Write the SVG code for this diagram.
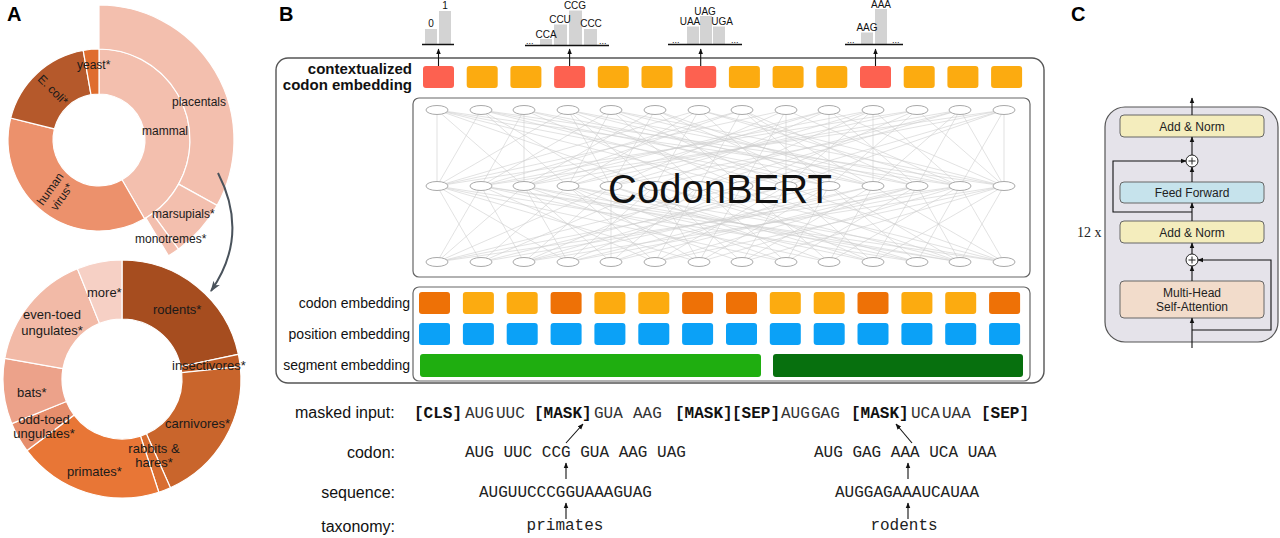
<svg xmlns="http://www.w3.org/2000/svg" width="1280" height="538" viewBox="0 0 1280 538">
<style>
.sans{font-family:"Liberation Sans",Arial,sans-serif;fill:#111}
.panel{font-family:"Liberation Sans",Arial,sans-serif;font-weight:bold;font-size:20px;fill:#000}
.dl{font-family:"Liberation Sans",Arial,sans-serif;font-size:12px;fill:#1a1a1a}
.dl2{font-family:"Liberation Sans",Arial,sans-serif;font-size:13px;fill:#1a1a1a}
.wedge{stroke:#fff;stroke-width:1.2}
.hl{font-family:"Liberation Sans",Arial,sans-serif;font-size:10px;fill:#111;text-anchor:middle}
.dots{font-family:"Liberation Sans",Arial,sans-serif;font-size:9px;fill:#111}
.bar{fill:#d3d3d3}
.base{stroke:#111;stroke-width:1.5}
.red{fill:#fd6150}
.lor{fill:#fcab10}
.dor{fill:#ee7106}
.blu{fill:#0ba1f7}
.nd{fill:#fff;stroke:#a9a9a9;stroke-width:1}
.net{stroke:#cfcfcf;stroke-width:0.6;fill:none}
.emb{font-family:"Liberation Sans",Arial,sans-serif;font-size:14px;fill:#111;text-anchor:end}
.lab{font-family:"Liberation Sans",Arial,sans-serif;font-size:16px;fill:#111}
.mb{font-family:"Liberation Mono","Courier New",monospace;font-size:16px;font-weight:bold;fill:#111}
.ms{font-family:"Liberation Mono","Courier New",monospace;font-size:16px;fill:#333}
.mono{font-family:"Liberation Mono","Courier New",monospace;font-size:16px;fill:#222}
.arr{stroke:#111;stroke-width:1.1;fill:none}
.cbox{stroke:#666;stroke-width:1}
.ct{font-family:"Liberation Sans",Arial,sans-serif;font-size:12px;fill:#222;text-anchor:middle}
</style>
<defs>
<marker id="ah" viewBox="0 0 10 10" refX="9" refY="5" markerWidth="6" markerHeight="6" orient="auto" markerUnits="userSpaceOnUse"><path d="M0,1 L10,5 L0,9 z" fill="#111"/></marker>
<marker id="ahA" viewBox="0 0 10 10" refX="9" refY="5" markerWidth="11" markerHeight="11" orient="auto" markerUnits="userSpaceOnUse"><path d="M0,1.5 L10,5 L0,8.5 L2.5,5 z" fill="#4a535c"/></marker>
</defs>
<rect width="1280" height="538" fill="#fff"/>

<!-- Panel A -->
<text class="panel" x="7" y="21">A</text>
<g id="donut-top">
<path id="w-mammal" class="wedge" fill="#f3bfae" d="M99,49 A91,91 0 0 1 144.5,218.8 L122,179.8 A46,46 0 0 0 99,94 Z"/>
<path id="w-human-virus" class="wedge" fill="#ec916c" d="M144.5,218.8 A91,91 0 0 1 10.7,118 L54.4,128.9 A46,46 0 0 0 122,179.8 Z"/>
<path id="w-ecoli" class="wedge" fill="#b5592b" d="M10.7,118 A91,91 0 0 1 83.2,50.4 L91,94.7 A46,46 0 0 0 54.4,128.9 Z"/>
<path id="w-yeast" class="wedge" fill="#df6d2e" d="M83.2,50.4 A91,91 0 0 1 99,49 L99,94 A46,46 0 0 0 91,94.7 Z"/>
<path id="w-placentals" class="wedge" fill="#f3bfae" d="M99,5 A135,135 0 0 1 217.1,205.4 L178.6,184.1 A91,91 0 0 0 99,49 Z"/>
<path id="w-marsupials" class="wedge" fill="#f3bfae" d="M217.1,205.4 A135,135 0 0 1 178.4,249.2 L152.5,213.6 A91,91 0 0 0 178.6,184.1 Z"/>
<path id="w-monotremes" class="wedge" fill="#f3bfae" d="M178.4,249.2 A135,135 0 0 1 168.5,255.7 L145.9,218 A91,91 0 0 0 152.5,213.6 Z"/>
<text class="dl" x="77" y="69">yeast*</text>
<text class="dl" text-anchor="middle" transform="translate(53,90) rotate(45)" y="4">E. coli*</text>
<text class="dl" x="172" y="106">placentals</text>
<text class="dl" x="142" y="135">mammal</text>
<g transform="translate(56,193) rotate(-55)"><text class="dl" text-anchor="middle" y="-3">human</text><text class="dl" text-anchor="middle" y="11">virus*</text></g>
<text class="dl" x="152" y="218">marsupials*</text>
<text class="dl" x="135" y="243">monotremes*</text>
</g>
<g id="donut-bottom">
<path id="w-rodents" class="wedge" fill="#a64d1f" d="M122,260 A119,119 0 0 1 238.4,354.3 L180.7,366.5 A60,60 0 0 0 122,319 Z"/>
<path id="w-insectivores" class="wedge" fill="#c05d27" d="M238.4,354.3 A119,119 0 0 1 240.3,366.6 L181.7,372.7 A60,60 0 0 0 180.7,366.5 Z"/>
<path id="w-carnivores" class="wedge" fill="#c9652c" d="M240.3,366.6 A119,119 0 0 1 170.4,487.7 L146.4,433.8 A60,60 0 0 0 181.7,372.7 Z"/>
<path id="w-rabbits" class="wedge" fill="#d86d30" d="M170.4,487.7 A119,119 0 0 1 158.8,492.2 L140.5,436.1 A60,60 0 0 0 146.4,433.8 Z"/>
<path id="w-primates" class="wedge" fill="#e87636" d="M158.8,492.2 A119,119 0 0 1 27,450.6 L74.1,415.1 A60,60 0 0 0 140.5,436.1 Z"/>
<path id="w-oddtoed" class="wedge" fill="#e68e6c" d="M27,450.6 A119,119 0 0 1 11.7,423.6 L66.4,401.5 A60,60 0 0 0 74.1,415.1 Z"/>
<path id="w-bats" class="wedge" fill="#eca28a" d="M11.7,423.6 A119,119 0 0 1 4.8,358.3 L62.9,368.6 A60,60 0 0 0 66.4,401.5 Z"/>
<path id="w-eventoed" class="wedge" fill="#f2baa7" d="M4.8,358.3 A119,119 0 0 1 77.4,268.7 L99.5,323.4 A60,60 0 0 0 62.9,368.6 Z"/>
<path id="w-more" class="wedge" fill="#f6d0c5" d="M77.4,268.7 A119,119 0 0 1 122,260 L122,319 A60,60 0 0 0 99.5,323.4 Z"/>
<text class="dl2" x="87" y="297">more*</text>
<text class="dl2" x="153" y="314">rodents*</text>
<text class="dl2" x="52" y="319" text-anchor="middle">even-toed</text>
<text class="dl2" x="52" y="335" text-anchor="middle">ungulates*</text>
<text class="dl2" x="172" y="370">insectivores*</text>
<text class="dl2" x="17" y="397">bats*</text>
<text class="dl2" x="44" y="424" text-anchor="middle">odd-toed</text>
<text class="dl2" x="44" y="438" text-anchor="middle">ungulates*</text>
<text class="dl2" x="165" y="428">carnivores*</text>
<text class="dl2" x="154" y="453" text-anchor="middle">rabbits &amp;</text>
<text class="dl2" x="154" y="467" text-anchor="middle">hares*</text>
<text class="dl2" x="67" y="476">primates*</text>
</g>

<!-- Panel B -->
<text class="panel" x="279" y="21">B</text>
<g id="histograms">
<g id="hist1">
<rect class="bar" x="425" y="29" width="12" height="15.5"/>
<rect class="bar" x="439" y="11" width="12" height="33.5"/>
<line class="base" x1="422" y1="44.5" x2="454" y2="44.5"/>
<text class="hl" x="431" y="26.5">0</text>
<text class="hl" x="445" y="9">1</text>
</g>
<g id="hist2">
<rect class="bar" x="540" y="39" width="12" height="6.5"/>
<rect class="bar" x="554" y="24.5" width="13" height="21"/>
<rect class="bar" x="569" y="10.5" width="13" height="35"/>
<rect class="bar" x="584" y="29" width="13" height="16.5"/>
<line class="base" x1="525" y1="45.5" x2="609" y2="45.5"/>
<text class="dots" x="526" y="43.5">...</text><text class="dots" x="599" y="43.5">...</text>
<text class="hl" x="546" y="37.5">CCA</text>
<text class="hl" x="560" y="23">CCU</text>
<text class="hl" x="575" y="9">CCG</text>
<text class="hl" x="591" y="27">CCC</text>
</g>
<g id="hist3">
<rect class="bar" x="687" y="26.5" width="12" height="18"/>
<rect class="bar" x="700" y="16" width="12" height="28.5"/>
<rect class="bar" x="713" y="26.5" width="12" height="18"/>
<line class="base" x1="668" y1="44.5" x2="742" y2="44.5"/>
<text class="dots" x="672" y="42.5">...</text><text class="dots" x="731" y="42.5">...</text>
<text class="hl" x="690" y="25">UAA</text>
<text class="hl" x="705" y="15">UAG</text>
<text class="hl" x="722" y="25">UGA</text>
</g>
<g id="hist4">
<rect class="bar" x="861" y="32.5" width="12" height="12"/>
<rect class="bar" x="875" y="9" width="12" height="35.5"/>
<line class="base" x1="845" y1="44.5" x2="903" y2="44.5"/>
<text class="dots" x="847" y="42.5">...</text><text class="dots" x="892" y="42.5">...</text>
<text class="hl" x="867" y="31">AAG</text>
<text class="hl" x="881" y="7.5">AAA</text>
</g>
</g>

<g id="model-box">
<rect x="276" y="58" width="768" height="325" rx="12" fill="none" stroke="#555" stroke-width="1.4"/>
<text class="sans" font-weight="bold" font-size="15" text-anchor="end" x="412" y="74">contextualized</text>
<text class="sans" font-weight="bold" font-size="15" text-anchor="end" x="412" y="90">codon embedding</text>
</g>
<g id="contextualized-embedding">
<rect class="red" x="423" y="66" width="31" height="22" rx="3"/>
<rect class="lor" x="466.7" y="66" width="31" height="22" rx="3"/>
<rect class="lor" x="510.4" y="66" width="31" height="22" rx="3"/>
<rect class="red" x="554.1" y="66" width="31" height="22" rx="3"/>
<rect class="lor" x="597.8" y="66" width="31" height="22" rx="3"/>
<rect class="lor" x="641.5" y="66" width="31" height="22" rx="3"/>
<rect class="red" x="685.2" y="66" width="31" height="22" rx="3"/>
<rect class="lor" x="728.9" y="66" width="31" height="22" rx="3"/>
<rect class="lor" x="772.6" y="66" width="31" height="22" rx="3"/>
<rect class="lor" x="816.3" y="66" width="31" height="22" rx="3"/>
<rect class="red" x="860" y="66" width="31" height="22" rx="3"/>
<rect class="lor" x="903.7" y="66" width="31" height="22" rx="3"/>
<rect class="lor" x="947.4" y="66" width="31" height="22" rx="3"/>
<rect class="lor" x="991.1" y="66" width="31" height="22" rx="3"/>
</g>

<g id="codonbert">
<rect x="413" y="98" width="617" height="179" rx="6" fill="#fff" stroke="#666" stroke-width="1.2"/>
<path class="net" d="M437 110L437 186M437 110L524 186M437 110L655 186M437 110L742 186M437 110L829 186M437 110L960 186M481 110L437 186M481 110L568 186M481 110L611 186M481 110L786 186M481 110L873 186M481 110L1004 186M524 110L481 186M524 110L524 186M524 110L699 186M524 110L829 186M524 110L917 186M568 110L437 186M568 110L611 186M568 110L655 186M568 110L742 186M568 110L873 186M568 110L960 186M611 110L481 186M611 110L568 186M611 110L699 186M611 110L786 186M611 110L917 186M611 110L1004 186M655 110L524 186M655 110L611 186M655 110L742 186M655 110L829 186M655 110L873 186M699 110L437 186M699 110L568 186M699 110L655 186M699 110L786 186M699 110L960 186M699 110L1004 186M742 110L481 186M742 110L524 186M742 110L699 186M742 110L829 186M742 110L873 186M742 110L917 186M786 110L437 186M786 110L611 186M786 110L742 186M786 110L786 186M786 110L960 186M829 110L524 186M829 110L568 186M829 110L655 186M829 110L829 186M829 110L917 186M829 110L1004 186M873 110L481 186M873 110L611 186M873 110L699 186M873 110L786 186M873 110L873 186M873 110L960 186M917 110L437 186M917 110L568 186M917 110L742 186M917 110L829 186M917 110L1004 186M960 110L524 186M960 110L655 186M960 110L699 186M960 110L873 186M960 110L917 186M960 110L1004 186M1004 110L481 186M1004 110L611 186M1004 110L742 186M1004 110L786 186M1004 110L960 186M1004 110L1004 186"/>
<path class="net" d="M437 186L481 262M437 186L568 262M437 186L699 262M437 186L786 262M437 186L917 262M481 186L437 262M481 186L524 262M481 186L655 262M481 186L829 262M481 186L960 262M481 186L1004 262M524 186L437 262M524 186L568 262M524 186L611 262M524 186L742 262M524 186L873 262M524 186L960 262M568 186L481 262M568 186L655 262M568 186L699 262M568 186L786 262M568 186L917 262M568 186L1004 262M611 186L437 262M611 186L524 262M611 186L611 262M611 186L829 262M611 186L873 262M655 186L481 262M655 186L568 262M655 186L699 262M655 186L742 262M655 186L917 262M655 186L960 262M699 186L524 262M699 186L611 262M699 186L655 262M699 186L786 262M699 186L873 262M699 186L1004 262M742 186L437 262M742 186L568 262M742 186L699 262M742 186L829 262M742 186L960 262M786 186L481 262M786 186L524 262M786 186L655 262M786 186L742 262M786 186L873 262M786 186L1004 262M829 186L437 262M829 186L611 262M829 186L699 262M829 186L786 262M829 186L917 262M829 186L960 262M873 186L524 262M873 186L568 262M873 186L742 262M873 186L829 262M873 186L1004 262M917 186L481 262M917 186L611 262M917 186L655 262M917 186L786 262M917 186L873 262M917 186L960 262M960 186L437 262M960 186L568 262M960 186L699 262M960 186L829 262M960 186L917 262M960 186L1004 262M1004 186L524 262M1004 186L655 262M1004 186L742 262M1004 186L873 262M1004 186L960 262"/>
<g id="nodes">
<ellipse class="nd" cx="437" cy="110" rx="11" ry="4.5"/><ellipse class="nd" cx="481" cy="110" rx="11" ry="4.5"/><ellipse class="nd" cx="524" cy="110" rx="11" ry="4.5"/><ellipse class="nd" cx="568" cy="110" rx="11" ry="4.5"/><ellipse class="nd" cx="611" cy="110" rx="11" ry="4.5"/><ellipse class="nd" cx="655" cy="110" rx="11" ry="4.5"/><ellipse class="nd" cx="699" cy="110" rx="11" ry="4.5"/><ellipse class="nd" cx="742" cy="110" rx="11" ry="4.5"/><ellipse class="nd" cx="786" cy="110" rx="11" ry="4.5"/><ellipse class="nd" cx="829" cy="110" rx="11" ry="4.5"/><ellipse class="nd" cx="873" cy="110" rx="11" ry="4.5"/><ellipse class="nd" cx="917" cy="110" rx="11" ry="4.5"/><ellipse class="nd" cx="960" cy="110" rx="11" ry="4.5"/><ellipse class="nd" cx="1004" cy="110" rx="11" ry="4.5"/>
<ellipse class="nd" cx="437" cy="186" rx="11" ry="4.5"/><ellipse class="nd" cx="481" cy="186" rx="11" ry="4.5"/><ellipse class="nd" cx="524" cy="186" rx="11" ry="4.5"/><ellipse class="nd" cx="568" cy="186" rx="11" ry="4.5"/><ellipse class="nd" cx="611" cy="186" rx="11" ry="4.5"/><ellipse class="nd" cx="655" cy="186" rx="11" ry="4.5"/><ellipse class="nd" cx="699" cy="186" rx="11" ry="4.5"/><ellipse class="nd" cx="742" cy="186" rx="11" ry="4.5"/><ellipse class="nd" cx="786" cy="186" rx="11" ry="4.5"/><ellipse class="nd" cx="829" cy="186" rx="11" ry="4.5"/><ellipse class="nd" cx="873" cy="186" rx="11" ry="4.5"/><ellipse class="nd" cx="917" cy="186" rx="11" ry="4.5"/><ellipse class="nd" cx="960" cy="186" rx="11" ry="4.5"/><ellipse class="nd" cx="1004" cy="186" rx="11" ry="4.5"/>
<ellipse class="nd" cx="437" cy="262" rx="11" ry="4.5"/><ellipse class="nd" cx="481" cy="262" rx="11" ry="4.5"/><ellipse class="nd" cx="524" cy="262" rx="11" ry="4.5"/><ellipse class="nd" cx="568" cy="262" rx="11" ry="4.5"/><ellipse class="nd" cx="611" cy="262" rx="11" ry="4.5"/><ellipse class="nd" cx="655" cy="262" rx="11" ry="4.5"/><ellipse class="nd" cx="699" cy="262" rx="11" ry="4.5"/><ellipse class="nd" cx="742" cy="262" rx="11" ry="4.5"/><ellipse class="nd" cx="786" cy="262" rx="11" ry="4.5"/><ellipse class="nd" cx="829" cy="262" rx="11" ry="4.5"/><ellipse class="nd" cx="873" cy="262" rx="11" ry="4.5"/><ellipse class="nd" cx="917" cy="262" rx="11" ry="4.5"/><ellipse class="nd" cx="960" cy="262" rx="11" ry="4.5"/><ellipse class="nd" cx="1004" cy="262" rx="11" ry="4.5"/>
</g>
<text class="sans" font-size="40" text-anchor="middle" x="720" y="203">CodonBERT</text>
</g>

<g id="input-embeddings">
<rect x="413" y="287" width="617" height="94" rx="6" fill="#fff" stroke="#666" stroke-width="1.2"/>
<text class="emb" x="410" y="308">codon embedding</text>
<text class="emb" x="410" y="339">position embedding</text>
<text class="emb" x="410" y="370">segment embedding</text>
<g id="codon-emb">
<rect class="dor" x="419" y="292" width="31" height="22" rx="3"/>
<rect class="lor" x="462.9" y="292" width="31" height="22" rx="3"/>
<rect class="lor" x="506.7" y="292" width="31" height="22" rx="3"/>
<rect class="dor" x="550.6" y="292" width="31" height="22" rx="3"/>
<rect class="lor" x="594.4" y="292" width="31" height="22" rx="3"/>
<rect class="lor" x="638.3" y="292" width="31" height="22" rx="3"/>
<rect class="dor" x="682.1" y="292" width="31" height="22" rx="3"/>
<rect class="dor" x="726" y="292" width="31" height="22" rx="3"/>
<rect class="lor" x="769.8" y="292" width="31" height="22" rx="3"/>
<rect class="lor" x="813.7" y="292" width="31" height="22" rx="3"/>
<rect class="dor" x="857.5" y="292" width="31" height="22" rx="3"/>
<rect class="lor" x="901.4" y="292" width="31" height="22" rx="3"/>
<rect class="lor" x="945.2" y="292" width="31" height="22" rx="3"/>
<rect class="dor" x="989.1" y="292" width="31" height="22" rx="3"/>
</g>
<g id="position-emb">
<rect class="blu" x="419" y="323" width="31" height="22" rx="3"/>
<rect class="blu" x="462.9" y="323" width="31" height="22" rx="3"/>
<rect class="blu" x="506.7" y="323" width="31" height="22" rx="3"/>
<rect class="blu" x="550.6" y="323" width="31" height="22" rx="3"/>
<rect class="blu" x="594.4" y="323" width="31" height="22" rx="3"/>
<rect class="blu" x="638.3" y="323" width="31" height="22" rx="3"/>
<rect class="blu" x="682.1" y="323" width="31" height="22" rx="3"/>
<rect class="blu" x="726" y="323" width="31" height="22" rx="3"/>
<rect class="blu" x="769.8" y="323" width="31" height="22" rx="3"/>
<rect class="blu" x="813.7" y="323" width="31" height="22" rx="3"/>
<rect class="blu" x="857.5" y="323" width="31" height="22" rx="3"/>
<rect class="blu" x="901.4" y="323" width="31" height="22" rx="3"/>
<rect class="blu" x="945.2" y="323" width="31" height="22" rx="3"/>
<rect class="blu" x="989.1" y="323" width="31" height="22" rx="3"/>
</g>
<g id="segment-emb">
<rect x="420" y="354" width="341" height="23" rx="3" fill="#1fae10"/>
<rect x="773" y="354" width="250" height="23" rx="3" fill="#07700e"/>
</g>
</g>

<g id="inputs-text">
<text class="lab" x="295" y="418">masked input:</text>
<text class="mb" x="414" y="418">[CLS]</text>
<text class="ms" x="465" y="418">AUG</text>
<text class="ms" x="496" y="418">UUC</text>
<text class="mb" x="534" y="418">[MASK]</text>
<text class="ms" x="594" y="418">GUA</text>
<text class="ms" x="633" y="418">AAG</text>
<text class="mb" x="675" y="418">[MASK]</text>
<text class="mb" x="732" y="418">[SEP]</text>
<text class="ms" x="781" y="418">AUG</text>
<text class="ms" x="811" y="418">GAG</text>
<text class="mb" x="851" y="418">[MASK]</text>
<text class="ms" x="911" y="418">UCA</text>
<text class="ms" x="942" y="418">UAA</text>
<text class="mb" x="981" y="418">[SEP]</text>
<text class="lab" text-anchor="end" x="395" y="458">codon:</text>
<text class="lab" text-anchor="end" x="395" y="498">sequence:</text>
<text class="lab" text-anchor="end" x="395" y="532">taxonomy:</text>
<text class="mono" x="465" y="457">AUG UUC CCG GUA AAG UAG</text>
<text class="mono" x="479" y="497">AUGUUCCCGGUAAAGUAG</text>
<text class="mono" x="565" y="530" text-anchor="middle">primates</text>
<text class="mono" x="814" y="457">AUG GAG AAA UCA UAA</text>
<text class="mono" x="835" y="497">AUGGAGAAAUCAUAA</text>
<text class="mono" x="904" y="530" text-anchor="middle">rodents</text>
</g>

<!-- Panel C -->
<text class="panel" x="1071" y="21">C</text>
<g id="encoder-block">
<rect x="1105" y="107" width="173" height="235" rx="20" fill="#e5e3ea" stroke="#555" stroke-width="1.2"/>
<text font-family="'Liberation Serif','Times New Roman',serif" font-size="14" fill="#222" x="1077" y="237">12 x</text>
</g>
<g id="add-norm-2"><rect class="cbox" x="1120" y="115" width="144" height="22" rx="4" fill="#f4edbd"/><text class="ct" x="1192" y="130.5">Add &amp; Norm</text></g>
<g id="feed-forward"><rect class="cbox" x="1120" y="182" width="144" height="21" rx="4" fill="#c6e3ec"/><text class="ct" x="1192" y="197">Feed Forward</text></g>
<g id="add-norm-1"><rect class="cbox" x="1120" y="221" width="144" height="22" rx="4" fill="#f4edbd"/><text class="ct" x="1192" y="236.5">Add &amp; Norm</text></g>
<g id="self-attention"><rect class="cbox" x="1120" y="281" width="144" height="37" rx="4" fill="#f2dccb"/><text class="ct" x="1192" y="297">Multi-Head</text><text class="ct" x="1192" y="311">Self-Attention</text></g>
<g id="plus-2"><circle cx="1192" cy="161" r="6" fill="#fff" stroke="#222" stroke-width="1"/><path d="M1188.5,161H1195.5M1192,157.5V164.5" stroke="#222" stroke-width="1"/></g>
<g id="plus-1"><circle cx="1192" cy="260" r="6" fill="#fff" stroke="#222" stroke-width="1"/><path d="M1188.5,260H1195.5M1192,256.5V263.5" stroke="#222" stroke-width="1"/></g>

<g id="connectors">
<path d="M218,173 Q250,235 211,291" fill="none" stroke="#4a535c" stroke-width="2" marker-end="url(#ahA)"/>
<path class="arr" d="M438.5,66 V49" marker-end="url(#ah)"/>
<path class="arr" d="M569.6,66 V49" marker-end="url(#ah)"/>
<path class="arr" d="M700.7,66 V49" marker-end="url(#ah)"/>
<path class="arr" d="M875.5,66 V49" marker-end="url(#ah)"/>
<path class="arr" d="M566,443 L583,424" marker-end="url(#ah)"/>
<path class="arr" d="M566,479 V463" marker-end="url(#ah)"/>
<path class="arr" d="M566,519 V503" marker-end="url(#ah)"/>
<path class="arr" d="M912,443 L896,424" marker-end="url(#ah)"/>
<path class="arr" d="M908,479 V463" marker-end="url(#ah)"/>
<path class="arr" d="M908,519 V503" marker-end="url(#ah)"/>
<path class="arr" d="M1192,348 V318" marker-end="url(#ah)"/>
<path class="arr" d="M1192,281 V266" marker-end="url(#ah)"/>
<path class="arr" d="M1192,254 V243" marker-end="url(#ah)"/>
<path class="arr" d="M1192,330 H1271 V260 H1198" marker-end="url(#ah)"/>
<path class="arr" d="M1192,221 V203" marker-end="url(#ah)"/>
<path class="arr" d="M1192,212 H1113 V161 H1186" marker-end="url(#ah)"/>
<path class="arr" d="M1192,182 V167" marker-end="url(#ah)"/>
<path class="arr" d="M1192,155 V137" marker-end="url(#ah)"/>
<path class="arr" d="M1192,115 V98" marker-end="url(#ah)"/>
</g>
</svg>
